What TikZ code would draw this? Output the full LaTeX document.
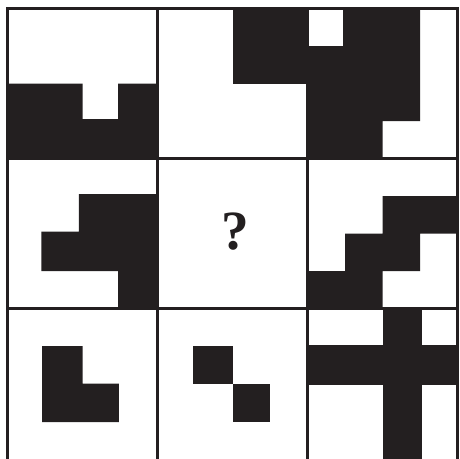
\documentclass[tikz,border=0pt]{standalone}
\usepackage{xcolor}
\usepackage{tikz}
\usepackage{fontspec}
\newfontfamily\qfont{Liberation Serif}
\definecolor{inkblack}{HTML}{231F20}

\begin{document}
\begin{tikzpicture}[x=0.5cm, y=-0.5cm]
  \useasboundingbox (-0.2,-0.227) rectangle (12.067,12.013);

  % top row
  \fill[inkblack] (0,2) -- (2,2) -- (2,2.95) -- (2.95,2.95) -- (2.95,2) -- (4,2) -- (4,4) -- (0,4) -- cycle;
  \fill[inkblack] (6,0) rectangle (8,2);
  \fill[inkblack] (8,1) -- (8.95,1) -- (8.95,0) -- (11,0) -- (11,3) -- (10,3) -- (10,4) -- (8,4) -- cycle;

  % middle row
  \fill[inkblack] (1.9,4.95) -- (4,4.95) -- (4,8) -- (2.95,8) -- (2.95,7) -- (0.9,7) -- (0.9,5.95) -- (1.9,5.95) -- cycle;
  \node[inkblack, font=\qfont\bfseries\fontsize{21}{24}\selectfont] (qmark) at (6.08,5.95) {?};
  \fill[inkblack] (10,5) -- (12,5) -- (12,6) -- (11,6) -- (11,7) -- (10,7) -- (10,8) -- (8,8) -- (8,7) -- (9,7) -- (9,6) -- (10,6) -- cycle;

  % bottom row
  \fill[inkblack] (0.92,9) -- (2,9) -- (2,10) -- (2.97,10) -- (2.97,11.03) -- (0.92,11.03) -- cycle;
  \fill[inkblack] (4.95,9) rectangle (6.02,10.02);
  \fill[inkblack] (6.02,10.02) rectangle (7,11.03);
  \fill[inkblack] (8,8.98) rectangle (12,10.05);
  \fill[inkblack] (10,8) rectangle (11.05,12.1);

  % grid
  \draw[inkblack, line width=1.1pt] (0,12.1) -- (0,0) -- (12,0) -- (12,12.1);
  \draw[inkblack, line width=1.1pt] (4,0) -- (4,12.1);
  \draw[inkblack, line width=1.1pt] (8,0) -- (8,12.1);
  \draw[inkblack, line width=1.1pt] (0,4) -- (12,4);
  \draw[inkblack, line width=1.1pt] (0,8) -- (12,8);
\end{tikzpicture}
\end{document}
